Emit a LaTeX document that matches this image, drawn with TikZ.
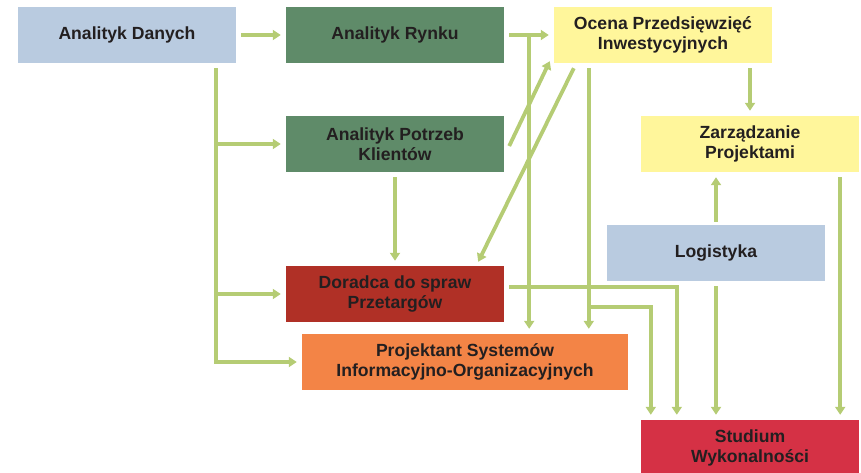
\documentclass[tikz,border=0pt]{standalone}
\usepackage{fontspec}
\setmainfont{Liberation Sans}
\usetikzlibrary{calc}
\usetikzlibrary{positioning}
\usetikzlibrary{arrows.meta}
\definecolor{niebieski}{HTML}{B9CBE0}
\definecolor{zielony}{HTML}{5F8B69}
\definecolor{zolty}{HTML}{FFF69B}
\definecolor{bordowy}{HTML}{B03026}
\definecolor{pomaranczowy}{HTML}{F38446}
\definecolor{czerwony}{HTML}{D53145}
\definecolor{linia}{HTML}{B5CC74}
\definecolor{tekst}{HTML}{231F20}
\tikzset{
	>={Triangle[length=8pt,width=10pt]},
	rola/.style={
		rectangle,
		minimum width=218pt,
		minimum height=56pt,
		inner sep=0pt,
		align=center,
		text=tekst,
		font=\fontsize{17.6}{20}\selectfont\bfseries},
	link/.style={draw=linia, line width=3.8pt, ->, shorten >=5pt, shorten <=5pt},
	prosto/.style={shorten >=0pt, shorten <=0pt},
}
\begin{document}
\begin{tikzpicture}
	[x=1pt, y=-1pt]
	\useasboundingbox (0,0) rectangle (861,473);
	
	\node[rola, fill=niebieski] (dane) at (127,35) {Analityk Danych};
	\node[rola, fill=zielony] (rynek) at (395,35) {Analityk Rynku};
	\node[rola, fill=zolty] (ocena) at (663,35) {Ocena Przedsięwzięć\\Inwestycyjnych};
	\node[rola, fill=zielony] (klienci) at (395,144) {Analityk Potrzeb\\Klientów};
	\node[rola, fill=zolty] (zarzadzanie) at (750,144) {Zarządzanie\\Projektami};
	\node[rola, fill=niebieski] (logistyka) at (716,253) {Logistyka};
	\node[rola, fill=bordowy] (przetargi) at (395,294) {Doradca do spraw\\Przetargów};
	\node[rola, fill=pomaranczowy, minimum width=326pt] (projektant) at (465,362) {Projektant Systemów\\Informacyjno-Organizacyjnych};
	\node[rola, fill=czerwony] (studium) at (750,448) {Studium\\Wykonalności};
	
	% Analityk Danych
	\coordinate (pien) at ([xshift=-20pt]dane.south east);
	\draw[link] (dane) -- (rynek);
	\draw[link] (pien) |- (projektant.west);
	\draw[link, shorten <=0pt] (pien |- klienci.west) -- (klienci.west);
	\draw[link, shorten <=0pt] (pien |- przetargi.west) -- (przetargi.west);
	
	% Analityk Rynku
	\coordinate (rozw) at ([xshift=25pt]rynek.east);
	\draw[link] (rynek) -- (ocena);
	\draw[link, shorten <=0pt] (rozw) -- (rozw |- projektant.north);
	
	% Analityk Potrzeb Klientow
	\draw[link, prosto] ([xshift=5pt,yshift=-2pt]klienci.east) -- ([xshift=-4pt,yshift=2pt]ocena.south west);
	\draw[link] (klienci) -- (przetargi);
	
	% Ocena Przedsiewziec
	\coordinate (oc1) at ([xshift=35pt]ocena.south west);
	\coordinate (oc2) at ([yshift=27pt]oc1 |- projektant.north);
	\draw[link, prosto] ([xshift=20pt,yshift=-5pt]ocena.south west) -- ([xshift=-26pt,yshift=4pt]przetargi.north east);
	\draw[link] (oc1) -- (oc1 |- projektant.north);
	\draw[link, shorten <=0pt] (oc2) -| ([xshift=10pt]studium.north west);
	\draw[link] (zarzadzanie.north |- ocena.south) -- (zarzadzanie.north);
	
	% Doradca, Logistyka, Zarzadzanie
	\draw[link] ([yshift=7pt]przetargi.east) -| ([xshift=36pt]studium.north west);
	\draw[link] (logistyka.south) -- (logistyka.south |- studium.north);
	\draw[link, shorten <=3pt] (logistyka.north) -- (logistyka.north |- zarzadzanie.south);
	\draw[link] ([xshift=-19pt]zarzadzanie.south east) -- ([xshift=-19pt]studium.north east);
	
\end{tikzpicture}
\end{document}
